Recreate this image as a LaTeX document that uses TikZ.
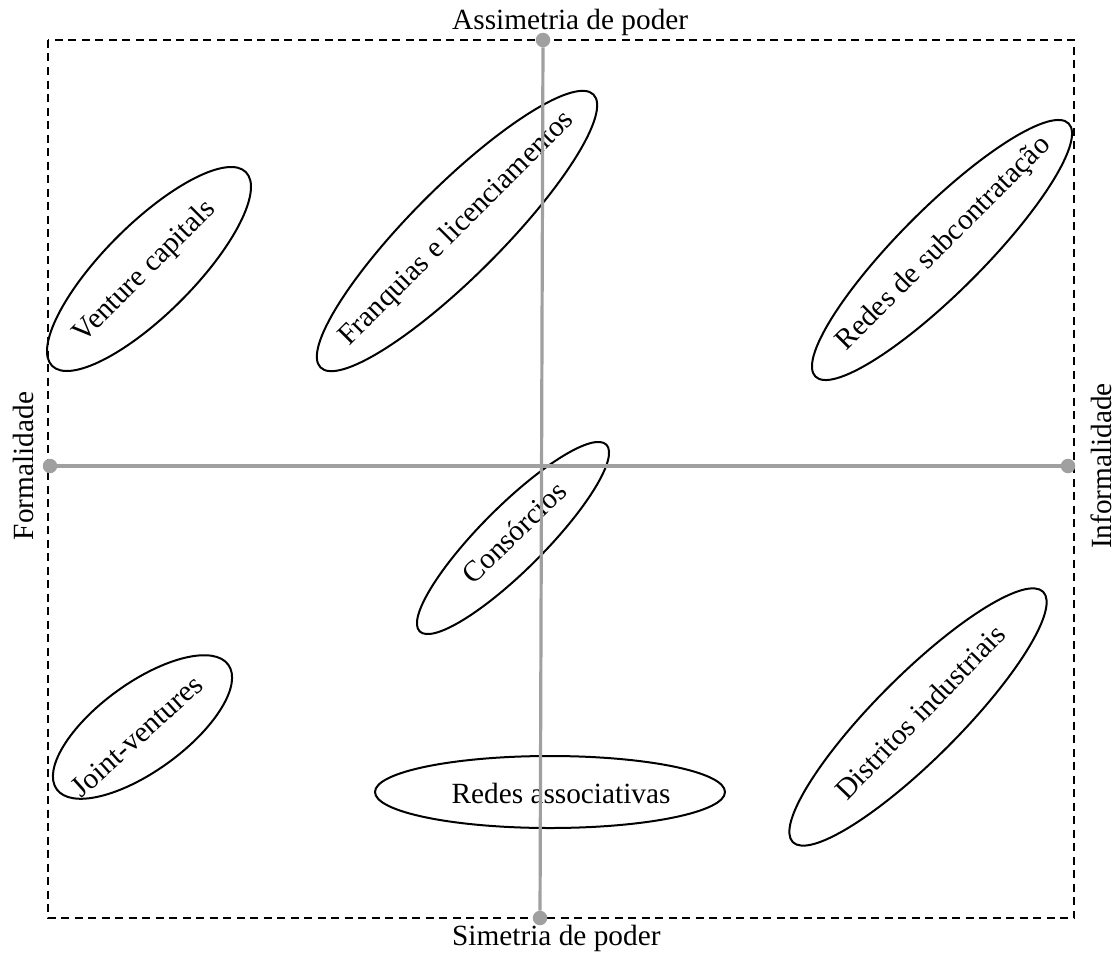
\documentclass[tikz,border=0pt]{standalone}
\usepackage{fontspec}
\setmainfont{Liberation Serif}
\usetikzlibrary{positioning}
\definecolor{axisgray}{RGB}{160,160,160}

\begin{document}
\begin{tikzpicture}[x=1pt, y=-1pt,
        lbl/.style={font=\fontsize{29.3}{35}\selectfont, inner sep=0pt},
        oval/.style={draw=black, line width=2pt},
        pole/.style={circle, fill=axisgray, minimum size=14.5pt, inner sep=0pt},
        axisline/.style={draw=axisgray, line width=3.2pt}]
            \useasboundingbox (0,0) rectangle (1118,958);
            % Frame
            \draw[line width=1.8pt, dash pattern=on 8pt off 5.5pt] (48,40) rectangle (1074,918);

            % Groups (text, then the oval round it)
            \node[lbl, rotate=45] (vc) at (145,272) {Venture capitals};
            \draw[oval, rotate around={45:(149,269)}] (149,269) ellipse (137pt and 45pt);
            \node[lbl, rotate=45] (fl) at (457,229) {Franquias e licenciamentos};
            \draw[oval, rotate around={45:(457,231)}] (457,231) ellipse (193pt and 45pt);
            \node[lbl, rotate=45] (rs) at (944,244) {Redes de subcontratação};
            \draw[oval, rotate around={45:(942,250)}] (942,250) ellipse (179pt and 42pt);
            \node[lbl, rotate=44] (co) at (514,532) {Consórcios};
            \draw[oval, rotate around={45:(513,538)}] (513,538) ellipse (132pt and 32pt);
            \node[lbl, rotate=42] (jv) at (137,736) {Joint-ventures};
            \draw[oval, rotate around={36:(142.5,727)}] (142.5,727) ellipse (106pt and 44pt);
            \node[lbl] (ra) at (561,793) {Redes associativas};
            \draw[oval] (550,792) ellipse (175pt and 36pt);
            \node[lbl, rotate=46] (di) at (920,712) {Distritos industriais};
            \draw[oval, rotate around={45:(918,717)}] (918,717) ellipse (177pt and 42pt);

            % Axes
            \node[pole] (top) at (543,40) {};
            \node[pole] (bottom) at (540,918) {};
            \node[pole] (left) at (50,466) {};
            \node[pole] (right) at (1068,466) {};
            \draw[axisline] (top) -- (bottom);
            \draw[axisline] (left) -- (right);

            % Axis labels
            \node[lbl, anchor=base west] (asym) at (452,30) {Assimetria de poder};
            \node[lbl, anchor=base west] (sym) at (452,945) {Simetria de poder};
            \node[lbl, rotate=90, anchor=base] (formal) at (33,466) {Formalidade};
            \node[lbl, rotate=90, anchor=base] (informal) at (1111.5,466) {Informalidade};
        \end{tikzpicture}
\end{document}
